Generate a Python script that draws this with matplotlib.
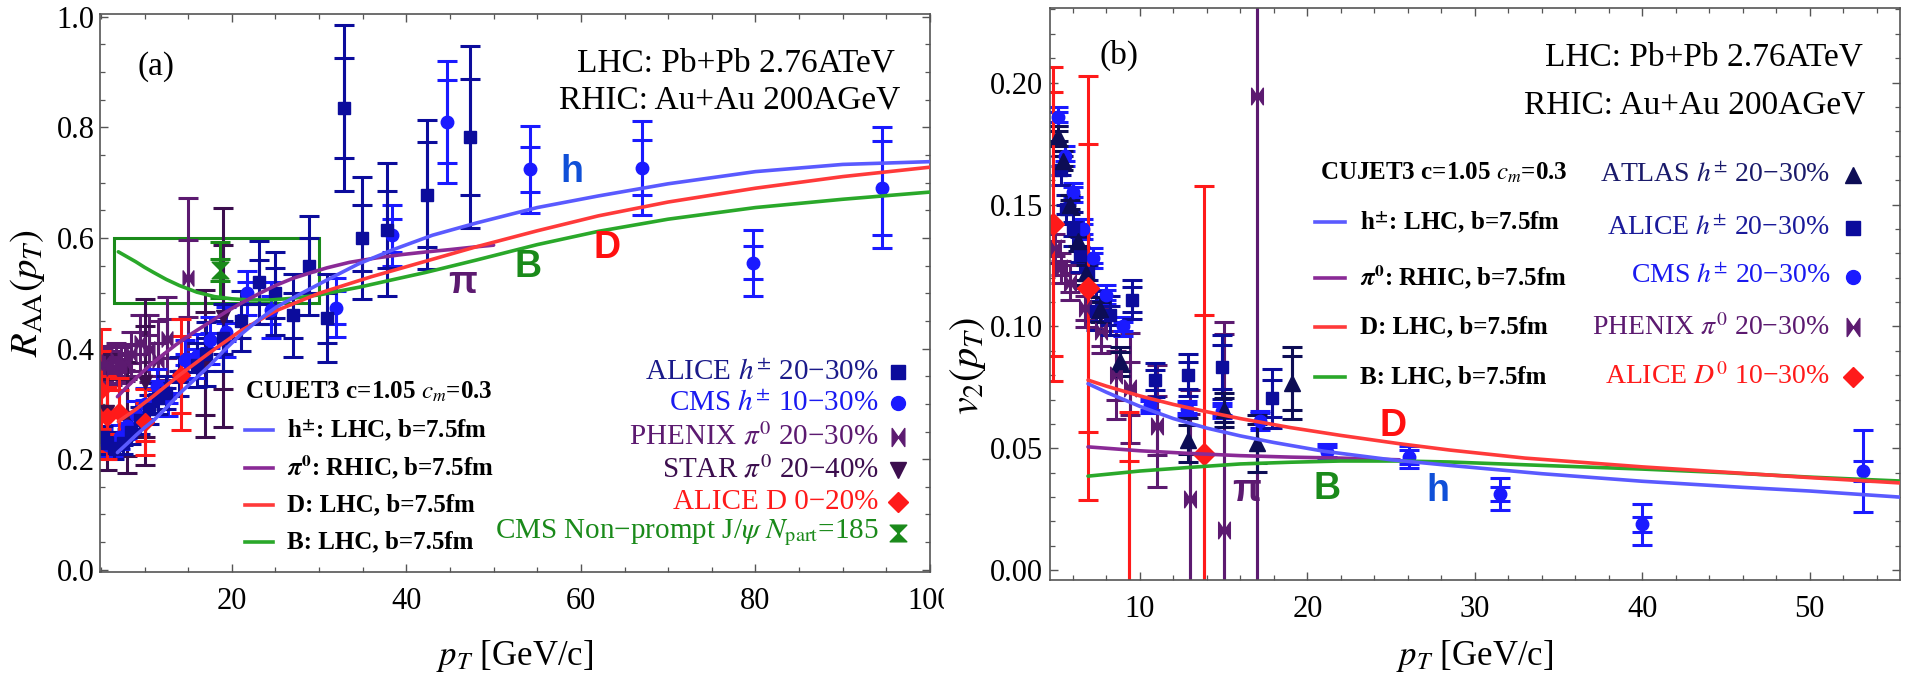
import matplotlib
matplotlib.use("Agg")
import matplotlib.pyplot as plt
from matplotlib.path import Path
from matplotlib.patches import Rectangle
from matplotlib.ticker import MultipleLocator, FormatStrFormatter

plt.rcParams['font.family'] = ['Liberation Serif', 'DejaVu Serif']
plt.rcParams['mathtext.fontset'] = 'stix'

# ---------------- panel (a): R_AA(pT) ----------------
# ALICE h+- 20-30%
alice_h_pt = [5.25, 5.75, 6.5, 7.5, 8.5, 9.5, 10.5, 11.5, 12.5, 14.0, 16.0, 17.0, 19.0,
              21.1, 23.1, 25.0, 27.0, 28.9, 30.9, 32.9, 34.9, 37.8, 42.4, 47.3]
alice_h_raa = [0.24, 0.23, 0.22, 0.23, 0.25, 0.27, 0.29, 0.31, 0.32, 0.35, 0.37, 0.39, 0.42,
               0.45, 0.52, 0.50, 0.46, 0.55, 0.455, 0.835, 0.60, 0.615, 0.678, 0.783]
alice_h_stat = [0.004, 0.004, 0.004, 0.005, 0.005, 0.006, 0.007, 0.008, 0.009, 0.010, 0.012, 0.03, 0.03,
                0.03, 0.04, 0.045, 0.04, 0.05, 0.045, 0.09, 0.06, 0.07, 0.095, 0.105]
alice_h_tot = [0.02, 0.02, 0.02, 0.02, 0.022, 0.024, 0.026, 0.028, 0.03, 0.035, 0.04, 0.058, 0.06,
               0.055, 0.075, 0.075, 0.075, 0.09, 0.08, 0.15, 0.11, 0.12, 0.135, 0.165]

# CMS h+- 10-30%
cms_h_pt = [5.2, 5.8, 6.4, 7.2, 8.0, 9.0, 10.0, 11.4, 12.7, 14.6, 16.0, 17.5, 19.3,
            21.7, 24.5, 31.9, 38.4, 44.7, 54.2, 67.0, 79.7, 94.5]
cms_h_raa = [0.235, 0.225, 0.225, 0.24, 0.26, 0.28, 0.30, 0.333, 0.31, 0.38, 0.387, 0.415, 0.43,
             0.50, 0.47, 0.474, 0.605, 0.81, 0.724, 0.727, 0.555, 0.691]
cms_h_stat = [0.004, 0.004, 0.004, 0.005, 0.005, 0.006, 0.007, 0.008, 0.009, 0.010, 0.012, 0.014, 0.016,
              0.02, 0.025, 0.03, 0.03, 0.075, 0.04, 0.05, 0.03, 0.085]
cms_h_tot = [0.02, 0.02, 0.02, 0.022, 0.024, 0.026, 0.028, 0.03, 0.032, 0.035, 0.04, 0.042, 0.045,
             0.04, 0.05, 0.053, 0.055, 0.11, 0.078, 0.085, 0.06, 0.11]

# PHENIX pi0 20-30%
phenix_pt = [5.25, 5.75, 6.25, 6.75, 7.25, 7.75, 8.5, 9.5, 10.5, 11.5, 12.6, 15.0]
phenix_raa = [0.37, 0.375, 0.365, 0.38, 0.37, 0.375, 0.39, 0.41, 0.40, 0.38, 0.418, 0.527]
phenix_stat = [0.01, 0.01, 0.01, 0.012, 0.012, 0.014, 0.016, 0.02, 0.025, 0.03, 0.035, 0.07]
phenix_tot = [0.03, 0.03, 0.03, 0.03, 0.032, 0.034, 0.04, 0.05, 0.06, 0.07, 0.075, 0.145]

# STAR pi0 20-40%
star_pt = [5.7, 8.0, 10.1, 16.9, 19.0]
star_raa = [0.285, 0.275, 0.34, 0.373, 0.457]
star_stat = [0.06, 0.07, 0.10, 0.093, 0.13]
star_tot = [0.105, 0.10, 0.15, 0.133, 0.198]

# ALICE D 0-20%
alice_d_pt = [5.0, 5.7, 7.1, 10.0, 14.2]
alice_d_raa = [0.325, 0.276, 0.285, 0.267, 0.353]
alice_d_stat = [0.07, 0.055, 0.04, 0.035, 0.07]
alice_d_tot = [0.11, 0.075, 0.062, 0.06, 0.10]

# CMS non-prompt J/psi, Npart = 185
jpsi_pt = [18.6]
jpsi_raa = [0.542]
jpsi_stat = [0.02]
jpsi_tot = [0.05]
jpsi_box_pt = [6.5, 30.0]
jpsi_box_raa = [0.483, 0.600]

# CUJET3 curves, b = 7.5 fm
raa_h_pt = [6.9, 8, 9, 10, 11.1, 12.5, 14.1, 15.8, 17.5, 19.2, 21, 23, 25.1, 28, 30.9, 34.5, 38.5,
            43, 48, 55, 62, 70, 80, 90, 100]
raa_h = [0.212, 0.228, 0.243, 0.257, 0.271, 0.293, 0.32, 0.345, 0.37, 0.398, 0.425, 0.451, 0.475,
         0.50, 0.524, 0.553, 0.579, 0.605, 0.627, 0.655, 0.676, 0.698, 0.72, 0.733, 0.738]
raa_pi_pt = [6.9, 8, 9.2, 10.5, 11.8, 13.6, 15.5, 17.5, 19.4, 21.3, 23.2, 25, 27, 29, 30.9, 33.5,
             36.6, 39.5, 42.4, 45, 48, 50]
raa_pi = [0.313, 0.331, 0.349, 0.368, 0.385, 0.407, 0.428, 0.448, 0.467, 0.484, 0.50, 0.514, 0.527,
          0.537, 0.546, 0.556, 0.564, 0.57, 0.575, 0.579, 0.584, 0.587]
raa_d_pt = [7.0, 9, 11, 14, 17.5, 21, 25, 30, 36, 42, 48, 55, 62, 70, 80, 90, 100]
raa_d = [0.268, 0.290, 0.314, 0.352, 0.393, 0.432, 0.468, 0.500, 0.530, 0.557, 0.584, 0.613, 0.640,
         0.665, 0.690, 0.711, 0.728]
raa_b_pt = [7.0, 8, 9, 10, 11, 12.5, 14, 16, 18, 20, 22, 24.5, 27, 30, 34.6, 38, 42.3, 48, 55, 62,
            70, 80, 90, 100]
raa_b = [0.575, 0.566, 0.557, 0.547, 0.538, 0.525, 0.514, 0.502, 0.494, 0.490, 0.488, 0.488, 0.491,
         0.497, 0.511, 0.523, 0.538, 0.560, 0.588, 0.612, 0.634, 0.655, 0.670, 0.683]

# ---------------- panel (b): v2(pT) ----------------
atlas_pt = [5.1, 5.4, 5.8, 6.3, 6.8, 7.6, 8.8, 12.85, 15.0, 17.0, 19.1]
atlas_v2 = [0.178, 0.168, 0.150, 0.135, 0.122, 0.107, 0.0857, 0.0535, 0.0656, 0.052, 0.0767]
atlas_stat = [0.002, 0.002, 0.002, 0.002, 0.003, 0.003, 0.004, 0.006, 0.005, 0.008, 0.011]
atlas_tot = [0.004, 0.004, 0.004, 0.004, 0.005, 0.005, 0.006, 0.009, 0.007, 0.0115, 0.0148]

alice_v2_pt = [5.3, 5.6, 6.0, 6.4, 6.9, 7.4, 8.2, 9.5, 10.9, 12.9, 14.9, 17.9]
alice_v2 = [0.164, 0.148, 0.140, 0.1295, 0.122, 0.1064, 0.1045, 0.111, 0.078, 0.080, 0.0833, 0.0705]
alice_v2_stat = [0.002, 0.002, 0.003, 0.003, 0.003, 0.004, 0.004, 0.005, 0.004, 0.0055, 0.009, 0.0075]
alice_v2_tot = [0.006, 0.006, 0.007, 0.007, 0.007, 0.008, 0.008, 0.008, 0.007, 0.0085, 0.013, 0.012]

cms_v2_pt = [5.1, 5.5, 6.0, 6.6, 7.2, 8.0, 9.0, 10.6, 12.8, 14.9, 17.2, 21.2, 26.1, 31.5, 40.0, 53.2]
cms_v2 = [0.186, 0.170, 0.155, 0.140, 0.128, 0.113, 0.100, 0.0676, 0.0663, 0.0655, 0.0614, 0.0486,
          0.0465, 0.0312, 0.0188, 0.0407]
cms_v2_stat = [0.002, 0.002, 0.002, 0.002, 0.002, 0.002, 0.002, 0.002, 0.002, 0.002, 0.003, 0.002,
               0.003, 0.003, 0.003, 0.004]
cms_v2_tot = [0.004, 0.004, 0.004, 0.004, 0.004, 0.004, 0.004, 0.003, 0.003, 0.003, 0.004, 0.003,
              0.0045, 0.0065, 0.0085, 0.017]

phenix_v2_pt = [4.9, 5.3, 5.8, 6.7, 7.7, 8.6, 9.4, 11.0, 13.0, 15.0, 17.0]
phenix_v2 = [0.132, 0.124, 0.118, 0.1076, 0.098, 0.080, 0.0746, 0.0593, 0.0291, 0.0167, 0.1944]
phenix_v2_stat = [0.003, 0.003, 0.004, 0.005, 0.006, 0.010, 0.011, 0.012, 0.035, 0.08, 0.25]
phenix_v2_tot = [0.006, 0.006, 0.007, 0.008, 0.009, 0.018, 0.0225, 0.025, 0.045, 0.085, 0.26]

alice_d0_pt = [4.8, 6.9, 9.35, 13.8]
alice_d0_v2 = [0.142, 0.1159, -0.015, 0.0477]
alice_d0_stat = [0.054, 0.059, 0.0598, 0.0571]
alice_d0_tot = [0.0645, 0.087, 0.080, 0.110]

v2_h_pt = [6.9, 8, 10, 12, 14, 16, 18, 21, 25, 28.5, 34, 40, 46, 50, 55.4]
v2_h = [0.0765, 0.0730, 0.0672, 0.0622, 0.0583, 0.0551, 0.0524, 0.0488, 0.0453, 0.0430, 0.0396,
        0.0365, 0.0340, 0.0325, 0.0300]
v2_pi_pt = [6.9, 10, 13, 16, 19, 21.9, 25.5]
v2_pi = [0.0506, 0.049, 0.0479, 0.047, 0.0464, 0.046, 0.0453]
v2_d_pt = [6.9, 8, 10, 12, 14, 16, 19, 22, 25.5, 28.5, 33, 40, 45, 50, 55.4]
v2_d = [0.078, 0.0755, 0.0715, 0.068, 0.065, 0.0622, 0.0585, 0.0553, 0.0519, 0.0493, 0.046, 0.0424,
        0.0402, 0.038, 0.0358]
v2_b_pt = [6.9, 10, 13, 16, 19, 22, 25.5, 28.5, 34, 40, 45, 50, 55.4]
v2_b = [0.0386, 0.0407, 0.0422, 0.0436, 0.0443, 0.0448, 0.0448, 0.0444, 0.043, 0.0415, 0.040, 0.0382, 0.0366]

# ---------------- styling ----------------
C_CURVE_H = '#5a5aff'
C_CURVE_PI = '#8a2a96'
C_CURVE_D = '#ff3a3a'
C_CURVE_B = '#2aa82a'
C_ALICE = '#0c0c9c'
C_CMS = '#1a1aff'
C_PHENIX = '#5c1a70'
C_STAR = '#3c0e4e'
C_ALICED = '#ff1a1a'
C_JPSI = '#1a8a1a'
C_ATLAS = '#0d0d55'

bowtie = Path([(-0.7, -1), (0, 0), (-0.7, 1), (-0.7, -1), (0.7, -1), (0, 0), (0.7, 1), (0.7, -1)],
              [Path.MOVETO, Path.LINETO, Path.LINETO, Path.CLOSEPOLY,
               Path.MOVETO, Path.LINETO, Path.LINETO, Path.CLOSEPOLY])
hourglass = Path([(-1, 1), (1, 1), (0, 0), (-1, 1), (-1, -1), (1, -1), (0, 0), (-1, -1)],
                 [Path.MOVETO, Path.LINETO, Path.LINETO, Path.CLOSEPOLY,
                  Path.MOVETO, Path.LINETO, Path.LINETO, Path.CLOSEPOLY])

fig = plt.figure(figsize=(19.05, 6.77), dpi=100)
ax1 = fig.add_axes([100 / 1905, 105 / 677, 830 / 1905, 558 / 677])
ax2 = fig.add_axes([1050 / 1905, 97 / 677, 850 / 1905, 572 / 677])


def series(ax, pt, val, stat, tot, color, marker, ms):
    kw = dict(fmt='none', ecolor=color, elinewidth=2.2, capsize=7, capthick=2.2, zorder=2)
    ax.errorbar(pt, val, yerr=tot, **kw)
    ax.errorbar(pt, val, yerr=stat, **kw)
    ax.plot(pt, val, ls='none', marker=marker, ms=ms, color=color, mec=color, zorder=2.1)


def curve(ax, pt, val, color):
    ax.plot(pt, val, color=color, lw=2.6, zorder=4, solid_capstyle='round', solid_joinstyle='round')


def frame(ax):
    for s in ax.spines.values():
        s.set_color('#555555')
        s.set_linewidth(1.2)
    ax.tick_params(which='both', direction='in', top=True, right=True, colors='#555555',
                   labelcolor='black', labelsize=22)
    ax.tick_params(which='major', length=6, width=1.0)
    ax.tick_params(which='minor', length=3.5, width=0.9)
    ax.tick_params(axis='x', pad=11)


# ---- panel (a) ----
ax1.add_patch(Rectangle((jpsi_box_pt[0], jpsi_box_raa[0]), jpsi_box_pt[1] - jpsi_box_pt[0],
                        jpsi_box_raa[1] - jpsi_box_raa[0], fill=False, ec=C_JPSI, lw=2.2, zorder=1.5))
series(ax1, phenix_pt, phenix_raa, phenix_stat, phenix_tot, C_PHENIX, bowtie, 11)
series(ax1, star_pt, star_raa, star_stat, star_tot, C_STAR, 'v', 10)
series(ax1, cms_h_pt, cms_h_raa, cms_h_stat, cms_h_tot, C_CMS, 'o', 9)
series(ax1, alice_h_pt, alice_h_raa, alice_h_stat, alice_h_tot, C_ALICE, 's', 9)
series(ax1, alice_d_pt, alice_d_raa, alice_d_stat, alice_d_tot, C_ALICED, 'D', 9)
series(ax1, jpsi_pt, jpsi_raa, jpsi_stat, jpsi_tot, C_JPSI, hourglass, 12)

curve(ax1, raa_b_pt, raa_b, C_CURVE_B)
curve(ax1, raa_pi_pt, raa_pi, C_CURVE_PI)
curve(ax1, raa_d_pt, raa_d, C_CURVE_D)
curve(ax1, raa_h_pt, raa_h, C_CURVE_H)

ax1.set_xlim(4.9, 100)
ax1.set_ylim(-0.004, 1.005)
ax1.xaxis.set_major_locator(MultipleLocator(20))
ax1.xaxis.set_minor_locator(MultipleLocator(5))
ax1.yaxis.set_major_locator(MultipleLocator(0.2))
ax1.yaxis.set_minor_locator(MultipleLocator(0.05))
ax1.yaxis.set_major_formatter(FormatStrFormatter('%.1f'))
frame(ax1)
ax1.tick_params(axis='y', pad=4)

ax1.set_ylabel(r'$R_{\rm AA}(p_T)$', fontsize=28, rotation=90, rotation_mode='anchor',
               ha='center', va='center')
ax1.yaxis.set_label_coords(-0.087, 0.5)
ax1.set_xlabel(r'$p_T$ [GeV/c]', fontsize=25, va='center')
ax1.xaxis.set_label_coords(0.5, -0.15)

ax1.text(0.045, 0.905, '(a)', transform=ax1.transAxes, fontsize=24, ha='left', va='center')
ax1.text(0.958, 0.912, 'LHC: Pb+Pb 2.76ATeV', transform=ax1.transAxes, fontsize=24, ha='right', va='center')
ax1.text(0.964, 0.846, 'RHIC: Au+Au 200AGeV', transform=ax1.transAxes, fontsize=24, ha='right', va='center')

lab = dict(fontsize=27, fontweight='bold', family=['Liberation Sans', 'DejaVu Sans'], ha='center',
           va='center', zorder=5)
ax1.text(59.0, 0.72, 'h', color='#1050d8', **lab)
ax1.text(63.0, 0.582, 'D', color='#ff1010', **lab)
ax1.text(53.9, 0.548, 'B', color='#1a8a1a', **lab)
ax1.text(46.4, 0.519, 'π', color='#5c1a70', **lab)

# model key, panel (a)
ax1.text(0.1747, 0.3226, r'CUJET3 c=1.05 $\boldsymbol{c_m}$=0.3', transform=ax1.transAxes,
         fontsize=18, fontweight='bold', ha='left', va='center')
model_a = [(0.2545, C_CURVE_H, r'h$^{\mathbf{\pm}}$: LHC, b=7.5fm'),
           (0.1864, C_CURVE_PI, r'$\boldsymbol{\pi}^{\mathbf{0}}$: RHIC, b=7.5fm'),
           (0.1201, C_CURVE_D, 'D: LHC, b=7.5fm'),
           (0.0538, C_CURVE_B, 'B: LHC, b=7.5fm')]
for y, c, t in model_a:
    ax1.plot([0.1747, 0.2084], [y, y], transform=ax1.transAxes, color=c, lw=2.6, clip_on=False)
    ax1.text(0.2253, y, t, transform=ax1.transAxes, fontsize=18, fontweight='bold', ha='left', va='center')

# data key, panel (a)
data_a = [(0.3584, C_ALICE, '#1a1a8a', r'ALICE $h^{\pm}$ 20−30%', 's', 10),
          (0.3029, C_CMS, '#1a1af0', r'CMS $h^{\pm}$ 10−30%', 'o', 10),
          (0.2419, C_PHENIX, '#5c1a70', r'PHENIX $\pi^0$ 20−30%', bowtie, 13),
          (0.1828, C_STAR, '#3c0e4e', r'STAR $\pi^0$ 20−40%', 'v', 12),
          (0.1254, C_ALICED, '#ff1a1a', 'ALICE D 0−20%', 'D', 10),
          (0.0699, C_JPSI, '#1a8a1a', r'CMS Non−prompt J/$\psi$ $N_{\rm part}$=185', hourglass, 12)]
for y, mc, tc, t, m, ms in data_a:
    ax1.text(0.938, y, t, transform=ax1.transAxes, fontsize=21, color=tc, ha='right', va='center')
    ax1.plot([0.9614], [y], transform=ax1.transAxes, ls='none', marker=m, ms=ms, color=mc, mec=mc,
             clip_on=False)

# ---- panel (b) ----
series(ax2, phenix_v2_pt, phenix_v2, phenix_v2_stat, phenix_v2_tot, C_PHENIX, bowtie, 12)
series(ax2, cms_v2_pt, cms_v2, cms_v2_stat, cms_v2_tot, C_CMS, 'o', 9)
series(ax2, alice_v2_pt, alice_v2, alice_v2_stat, alice_v2_tot, C_ALICE, 's', 9)
series(ax2, atlas_pt, atlas_v2, atlas_stat, atlas_tot, C_ATLAS, '^', 11)
series(ax2, alice_d0_pt, alice_d0_v2, alice_d0_stat, alice_d0_tot, C_ALICED, 'D', 11)

curve(ax2, v2_pi_pt, v2_pi, C_CURVE_PI)
curve(ax2, v2_b_pt, v2_b, C_CURVE_B)
curve(ax2, v2_d_pt, v2_d, C_CURVE_D)
curve(ax2, v2_h_pt, v2_h, C_CURVE_H)

ax2.set_xlim(4.63, 55.4)
ax2.set_ylim(-0.004, 0.2306)
ax2.xaxis.set_major_locator(MultipleLocator(10))
ax2.xaxis.set_minor_locator(MultipleLocator(2))
ax2.yaxis.set_major_locator(MultipleLocator(0.05))
ax2.yaxis.set_minor_locator(MultipleLocator(0.01))
ax2.yaxis.set_major_formatter(FormatStrFormatter('%.2f'))
frame(ax2)
ax2.tick_params(axis='y', pad=5)

ax2.set_ylabel(r'$v_2(p_T)$', fontsize=29, rotation=90, rotation_mode='anchor', ha='center', va='center')
ax2.yaxis.set_label_coords(-0.097, 0.375)
ax2.set_xlabel(r'$p_T$ [GeV/c]', fontsize=25, va='center')
ax2.xaxis.set_label_coords(0.5, -0.133)

ax2.text(0.058, 0.918, '(b)', transform=ax2.transAxes, fontsize=24, ha='left', va='center')
ax2.text(0.9565, 0.9143, 'LHC: Pb+Pb 2.76ATeV', transform=ax2.transAxes, fontsize=24, ha='right', va='center')
ax2.text(0.959, 0.830, 'RHIC: Au+Au 200AGeV', transform=ax2.transAxes, fontsize=24, ha='right', va='center')

ax2.text(25.1, 0.0593, 'D', color='#ff1010', **lab)
ax2.text(16.4, 0.0324, 'π', color='#5c1a70', **lab)
ax2.text(21.2, 0.0333, 'B', color='#1a8a1a', **lab)
ax2.text(27.8, 0.0324, 'h', color='#1050d8', **lab)

ax2.text(0.3176, 0.7115, r'CUJET3 c=1.05 $\boldsymbol{c_m}$=0.3', transform=ax2.transAxes,
         fontsize=18, fontweight='bold', ha='left', va='center')
model_b = [(0.626, C_CURVE_H, r'h$^{\mathbf{\pm}}$: LHC, b=7.5fm'),
           (0.528, C_CURVE_PI, r'$\boldsymbol{\pi}^{\mathbf{0}}$: RHIC, b=7.5fm'),
           (0.442, C_CURVE_D, 'D: LHC, b=7.5fm'),
           (0.355, C_CURVE_B, 'B: LHC, b=7.5fm')]
for y, c, t in model_b:
    ax2.plot([0.3118, 0.347], [y, y], transform=ax2.transAxes, color=c, lw=2.6, clip_on=False)
    ax2.text(0.365, y, t, transform=ax2.transAxes, fontsize=18, fontweight='bold', ha='left', va='center')

data_b = [(0.708, C_ATLAS, '#1a1a6a', r'ATLAS $h^{\pm}$ 20−30%', '^', 12),
          (0.615, C_ALICE, '#1a1a9a', r'ALICE $h^{\pm}$ 20−30%', 's', 10),
          (0.530, C_CMS, '#1a1af0', r'CMS $h^{\pm}$ 20−30%', 'o', 10),
          (0.442, C_PHENIX, '#5c1a70', r'PHENIX $\pi^0$ 20−30%', bowtie, 13),
          (0.355, C_ALICED, '#ff1a1a', r'ALICE $D^0$ 10−30%', 'D', 10)]
for y, mc, tc, t, m, ms in data_b:
    ax2.text(0.9176, y, t, transform=ax2.transAxes, fontsize=20, color=tc, ha='right', va='center')
    ax2.plot([0.9447], [y], transform=ax2.transAxes, ls='none', marker=m, ms=ms, color=mc, mec=mc,
             clip_on=False)

# the "100" label of panel (a) is cut by the panel border
fig.patches.append(Rectangle((944 / 1905, 0.0), 40 / 1905, 0.14, transform=fig.transFigure,
                             fc='white', ec='none', zorder=10))

fig.savefig('out.png', dpi=100)
